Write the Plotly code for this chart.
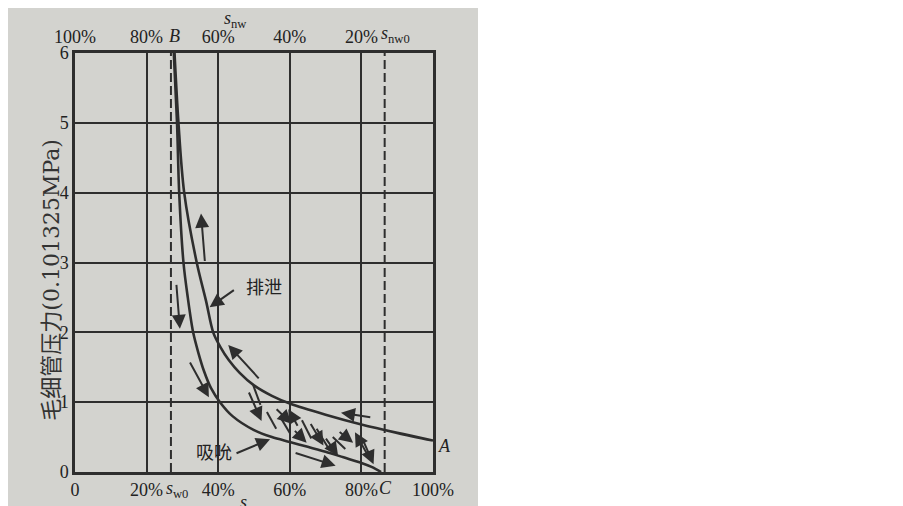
import plotly.graph_objects as go

# ---------------- data ----------------
sw_tick_vals = [0, 20, 40, 60, 80, 100]
sw_tick_text = ["0", "20%", "40%", "60%", "80%", "100%"]
snw_tick_text = ["100%", "80%", "60%", "40%", "20%", ""]
pc_tick_vals = [0, 1, 2, 3, 4, 5, 6]

# drainage curve (排泄): A -> B
drain_sw = [27.8, 28.9, 30.5, 34.0, 36.6, 38.6, 40.5, 43.0, 46.0, 50.0, 55.0, 60.0, 70.0, 80.0, 90.0, 100.0]
drain_pc = [6.0, 5.0, 4.0, 3.0, 2.45, 2.0, 1.8, 1.6, 1.42, 1.24, 1.09, 0.98, 0.82, 0.68, 0.56, 0.45]

# imbibition curve (吸吮): B -> C
imb_sw = [27.6, 28.5, 29.1, 30.3, 31.5, 33.0, 34.5, 36.0, 38.0, 40.5, 44.0, 50.0, 55.0, 60.0, 65.0, 70.0, 75.0, 80.0, 83.0, 85.5]
imb_pc = [6.0, 5.0, 4.0, 3.0, 2.5, 2.0, 1.7, 1.45, 1.2, 1.0, 0.8, 0.6, 0.5, 0.43, 0.36, 0.29, 0.21, 0.13, 0.07, 0.0]

# residual saturation markers
sw0 = 26.8
sw_c = 86.5

# arrows: tail (sw, pc) -> head (sw, pc)
arrow_tail_sw = [36.3, 28.3, 44.8, 31.9, 51.7, 44.7, 61.2, 82.9, 48.4, 55.9, 61.0, 65.6, 69.8, 62.4, 81.9, 73.5, 80.5]
arrow_tail_pc = [3.0, 2.7, 2.62, 1.59, 1.32, 0.26, 0.28, 0.78, 1.16, 0.92, 0.61, 0.71, 0.50, 0.64, 0.23, 0.59, 0.45]
arrow_head_sw = [35.2, 29.3, 37.6, 37.4, 42.8, 54.5, 72.8, 74.3, 52.1, 60.5, 64.7, 69.4, 73.5, 59.6, 78.2, 77.7, 83.4]
arrow_head_pc = [3.7, 2.05, 2.36, 1.07, 1.82, 0.47, 0.09, 0.85, 0.73, 0.69, 0.42, 0.38, 0.23, 0.90, 0.57, 0.42, 0.11]

# plain scanning strokes (no heads)
stroke_x0 = [49.8, 53.6, 57.2, 63.4, 67.5, 72.0]
stroke_y0 = [1.24, 0.86, 0.80, 0.74, 0.62, 0.50]
stroke_x1 = [51.8, 56.2, 60.0, 66.0, 70.8, 75.5]
stroke_y1 = [0.96, 0.62, 0.56, 0.48, 0.34, 0.33]

INK = "#2e2e2e"
BG = "#d3d3cf"
SERIF = "Liberation Serif, serif"
MIX = "Liberation Serif, Noto Sans CJK SC, serif"
TITLE_MIX = "DejaVu Serif, Noto Sans CJK SC, serif"

fig = go.Figure()

# dashed verticals at s_w0 and C
for xv in [sw0, sw_c]:
    fig.add_trace(go.Scatter(x=[xv, xv], y=[0, 6], mode="lines",
                             line=dict(color=INK, width=2, dash="9px,4px"),
                             hoverinfo="skip", showlegend=False))

fig.add_trace(go.Scatter(x=drain_sw, y=drain_pc, mode="lines", name="排泄",
                         line=dict(color=INK, width=2.6, shape="spline", smoothing=0.9),
                         showlegend=False))
fig.add_trace(go.Scatter(x=imb_sw, y=imb_pc, mode="lines", name="吸吮",
                         line=dict(color=INK, width=2.6, shape="spline", smoothing=0.9),
                         showlegend=False))

for x0, y0, x1, y1 in zip(stroke_x0, stroke_y0, stroke_x1, stroke_y1):
    fig.add_trace(go.Scatter(x=[x0, x1], y=[y0, y1], mode="lines",
                             line=dict(color=INK, width=2), hoverinfo="skip", showlegend=False))

# invisible trace on top axis so it is drawn
fig.add_trace(go.Scatter(x=[0, 100], y=[0, 0], xaxis="x2", mode="lines",
                         line=dict(width=0), opacity=0, hoverinfo="skip", showlegend=False))

annotations = []
for tx, ty, hx, hy in zip(arrow_tail_sw, arrow_tail_pc, arrow_head_sw, arrow_head_pc):
    annotations.append(dict(x=hx, y=hy, ax=tx, ay=ty, xref="x", yref="y", axref="x", ayref="y",
                            text="", showarrow=True, arrowhead=2, arrowsize=1.4,
                            arrowwidth=2, arrowcolor=INK))

tfont = dict(family=SERIF, size=18, color="#222")
label_font = dict(family=MIX, size=18, color="#222")
annotations += [
    dict(x=52.8, y=2.63, xref="x", yref="y", text="排泄", showarrow=False, font=label_font),
    dict(x=38.8, y=0.27, xref="x", yref="y", text="吸吮", showarrow=False, font=label_font),
    dict(x=100, y=0.37, xref="x", yref="y", text="<i>A</i>", showarrow=False,
         xanchor="left", xshift=3, font=tfont),
    # bottom extra tick labels
    dict(x=28.6, y=0, xref="x", yref="paper", yanchor="top", yshift=-4,
         text="<i>s</i><sub>w0</sub>", showarrow=False, font=tfont),
    dict(x=86.6, y=0, xref="x", yref="paper", yanchor="top", yshift=-4,
         text="<i>C</i>", showarrow=False, font=tfont),
    # top extra tick labels
    dict(x=27.7, y=1, xref="x", yref="paper", yanchor="bottom", yshift=5,
         text="<i>B</i>", showarrow=False, font=tfont),
    dict(x=89.5, y=1, xref="x", yref="paper", yanchor="bottom", yshift=5,
         text="<i>s</i><sub>nw0</sub>", showarrow=False, font=tfont),
    # axis titles
    dict(x=44.7, y=1, xref="x", yref="paper", yanchor="bottom", yshift=20,
         text="<i>s</i><sub>nw</sub>", showarrow=False, font=tfont),
    dict(x=48.5, y=0, xref="x", yref="paper", yanchor="top", yshift=-18,
         text="<i>s</i><sub>w</sub>", showarrow=False, font=tfont),
    dict(x=-0.106, y=0.458, xref="paper", yref="paper", textangle=-90,
         text="毛细管压力(0.101325MPa)", showarrow=False,
         font=dict(family=TITLE_MIX, size=22, color="#333")),
]

axis_common = dict(showline=True, linecolor=INK, linewidth=2.5, ticks="", automargin=False,
                   tickfont=dict(family=SERIF, size=18, color="#222"), zeroline=False)

fig.update_layout(
    width=895, height=498,
    margin=dict(l=67, r=470, t=45, b=34),
    paper_bgcolor="white",
    plot_bgcolor="rgba(0,0,0,0)",
    showlegend=False,
    xaxis=dict(range=[0, 100], tickvals=sw_tick_vals, ticktext=sw_tick_text,
               showgrid=True, gridcolor=INK, gridwidth=2, mirror=True, **axis_common),
    xaxis2=dict(range=[0, 100], overlaying="x", side="top", tickvals=sw_tick_vals,
                ticktext=snw_tick_text, showgrid=False, **axis_common),
    yaxis=dict(range=[0, 6], tickvals=pc_tick_vals, showgrid=True, gridcolor=INK,
               gridwidth=2, mirror=True, **axis_common),
    annotations=annotations,
    shapes=[dict(type="rect", xref="paper", yref="paper", x0=-0.1872, x1=1.1257,
                 y0=-0.0811, y1=1.1074, fillcolor=BG, line=dict(width=0), layer="below")],
)

fig.write_html("out.html")
